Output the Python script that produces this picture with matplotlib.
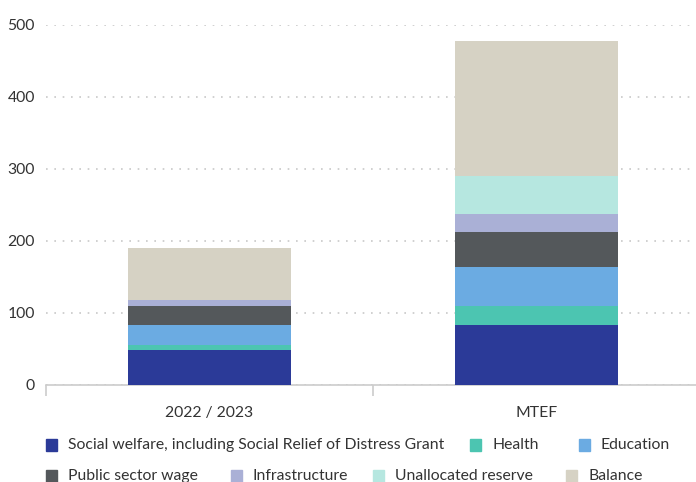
import matplotlib.pyplot as plt
from matplotlib.patches import Rectangle
import numpy as np

plt.rcParams["font.family"] = ["Lato", "DejaVu Sans"]

categories = ["2022 / 2023", "MTEF"]
series = ["Social welfare, including Social Relief of Distress Grant", "Health",
          "Education", "Public sector wage", "Infrastructure",
          "Unallocated reserve", "Balance"]
values = {
    "Social welfare, including Social Relief of Distress Grant": [48, 83],
    "Health": [7, 27],
    "Education": [28, 54],
    "Public sector wage": [26.5, 48.5],
    "Infrastructure": [8, 25],
    "Unallocated reserve": [0, 53],
    "Balance": [72, 187],
}
colors = ["#2b3a98", "#4cc5b1", "#6babe2", "#54585b", "#aab0d6", "#b6e7e0", "#d6d2c4"]

# legend layout (row, x position of swatch in px)
legend_pos = [(0, 46), (0, 470), (0, 579), (1, 46), (1, 231), (1, 373), (1, 566)]

W, H = 696, 482
fig = plt.figure(figsize=(W / 100, H / 100), dpi=100)
# axes run a little past the right edge of the figure, like the original
ax = fig.add_axes([46 / W, (H - 384.7) / H, 654 / W, (384.7 - 24.7) / H])

x = np.arange(len(categories))
bottom = np.zeros(len(categories))
for name, c in zip(series, colors):
    v = np.array(values[name], dtype=float)
    ax.bar(x, v, 0.5, bottom=bottom, color=c, zorder=3)
    bottom += v

ax.set_xlim(-0.5, 1.5)
ax.set_ylim(0, 500)
ax.set_yticks(range(0, 501, 100))
ax.yaxis.grid(True, linestyle=(0, (1, 4)), color="#c8c8c8", linewidth=1.2, zorder=0)
ax.tick_params(axis="y", length=0, labelsize=11.3, labelcolor="#333333", pad=8)
for s in ["top", "right", "left"]:
    ax.spines[s].set_visible(False)
ax.spines["bottom"].set_color("#cccccc")
ax.spines["bottom"].set_linewidth(1.2)

ax.set_xticks([-0.5, 0.5], minor=False)
ax.set_xticklabels([])
ax.tick_params(axis="x", length=8, color="#cccccc", width=1.2)
ax.set_xticks(x, minor=True)
ax.set_xticklabels(categories, minor=True)
ax.tick_params(axis="x", which="minor", length=0, labelsize=11.3,
               labelcolor="#333333", pad=15)

row_y = [445, 476]
for (row, px), name, c in zip(legend_pos, series, colors):
    yc = row_y[row]
    fig.patches.append(Rectangle((px / W, (H - yc - 6) / H), 11 / W, 12 / H,
                                 transform=fig.transFigure, color=c))
    fig.text((px + 22) / W, (H - yc) / H, name, fontsize=11.3, color="#333333",
             va="center", ha="left")

fig.savefig("out.png", dpi=100)
